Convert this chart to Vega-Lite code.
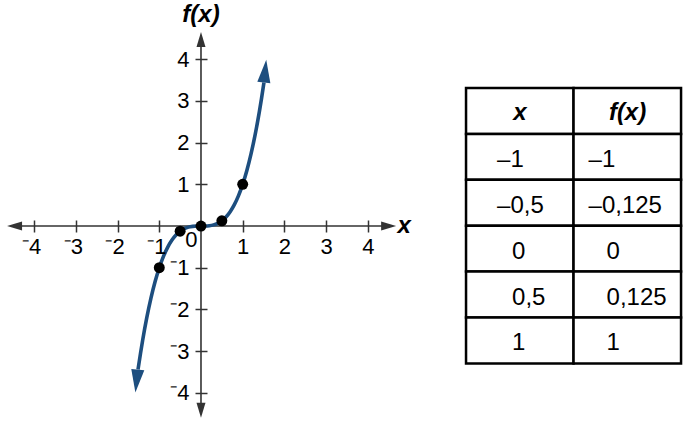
{
  "$schema": "https://vega.github.io/schema/vega-lite/v6.json",
  "width": 689,
  "height": 425,
  "autosize": {"type": "fit", "contains": "padding"},
  "padding": 0,
  "background": "white",
  "config": {"view": {"stroke": null}, "font": "Liberation Sans"},
  "datasets": {
    "axisLines": [
      {"x": -4.55, "x2": 4.55, "y": 0, "y2": 0},
      {"x": 0, "x2": 0, "y": -4.5, "y2": 4.55}
    ],
    "axisHeads": [
      {"x": -4.65, "y": 0, "dir": "left"},
      {"x": 4.68, "y": 0, "dir": "right"},
      {"x": 0, "y": 4.65, "dir": "up"},
      {"x": 0, "y": -4.6, "dir": "down"}
    ],
    "curve": [
      {"x": -1.51, "y": -3.443},
      {"x": -1.45, "y": -3.049},
      {"x": -1.4, "y": -2.744},
      {"x": -1.3, "y": -2.197},
      {"x": -1.2, "y": -1.728},
      {"x": -1.1, "y": -1.331},
      {"x": -1.0, "y": -1.0},
      {"x": -0.9, "y": -0.729},
      {"x": -0.8, "y": -0.512},
      {"x": -0.7, "y": -0.343},
      {"x": -0.6, "y": -0.216},
      {"x": -0.5, "y": -0.125},
      {"x": -0.4, "y": -0.064},
      {"x": -0.3, "y": -0.027},
      {"x": -0.2, "y": -0.008},
      {"x": -0.1, "y": -0.001},
      {"x": 0, "y": 0},
      {"x": 0.1, "y": 0.001},
      {"x": 0.2, "y": 0.008},
      {"x": 0.3, "y": 0.027},
      {"x": 0.4, "y": 0.064},
      {"x": 0.5, "y": 0.125},
      {"x": 0.6, "y": 0.216},
      {"x": 0.7, "y": 0.343},
      {"x": 0.8, "y": 0.512},
      {"x": 0.9, "y": 0.729},
      {"x": 1.0, "y": 1.0},
      {"x": 1.1, "y": 1.331},
      {"x": 1.2, "y": 1.728},
      {"x": 1.3, "y": 2.197},
      {"x": 1.4, "y": 2.744},
      {"x": 1.45, "y": 3.049},
      {"x": 1.51, "y": 3.443}
    ],
    "curveHeads": [
      {"x": 1.565, "y": 3.99, "head": "up"},
      {"x": -1.573, "y": -3.993, "head": "down"}
    ],
    "dots": [
      {"x": -1, "y": -1},
      {"x": -0.5, "y": -0.125},
      {"x": 0, "y": 0},
      {"x": 0.5, "y": 0.125},
      {"x": 1, "y": 1}
    ],
    "titles": [
      {"x": 0, "y": 4.89, "label": "f(x)"},
      {"x": 4.87, "y": -0.168, "label": "x"}
    ],
    "cells": [
      {"row": 0, "rowEnd": 1, "col": 0, "colEnd": 1, "label": "x", "neg": false},
      {"row": 0, "rowEnd": 1, "col": 1, "colEnd": 2, "label": "f(x)", "neg": false},
      {"row": 1, "rowEnd": 2, "col": 0, "colEnd": 1, "label": "–1", "neg": true},
      {"row": 1, "rowEnd": 2, "col": 1, "colEnd": 2, "label": "–1", "neg": true},
      {"row": 2, "rowEnd": 3, "col": 0, "colEnd": 1, "label": "–0,5", "neg": true},
      {"row": 2, "rowEnd": 3, "col": 1, "colEnd": 2, "label": "–0,125", "neg": true},
      {"row": 3, "rowEnd": 4, "col": 0, "colEnd": 1, "label": "0", "neg": false},
      {"row": 3, "rowEnd": 4, "col": 1, "colEnd": 2, "label": "0", "neg": false},
      {"row": 4, "rowEnd": 5, "col": 0, "colEnd": 1, "label": "0,5", "neg": false},
      {"row": 4, "rowEnd": 5, "col": 1, "colEnd": 2, "label": "0,125", "neg": false},
      {"row": 5, "rowEnd": 6, "col": 0, "colEnd": 1, "label": "1", "neg": false},
      {"row": 5, "rowEnd": 6, "col": 1, "colEnd": 2, "label": "1", "neg": false}
    ]
  },
  "layer": [
    {
      "data": {"name": "axisLines"},
      "mark": {"type": "rule", "color": "#333333", "strokeWidth": 1.6},
      "encoding": {
        "x": {
          "field": "x", "type": "quantitative",
          "scale": {"domain": [-4.82, 11.703], "nice": false, "zero": false},
          "axis": {
            "orient": "bottom",
            "values": [-4, -3, -2, -1, 0, 1, 2, 3, 4],
            "offset": -205,
            "zindex": 1,
            "domain": false, "grid": false,
            "tickSize": 12, "tickWidth": 1.5, "tickColor": "#333333",
            "tickOpacity": {"condition": {"test": "datum.value === 0", "value": 0}, "value": 1},
            "labelFont": "Liberation Sans", "labelFontSize": 22, "labelColor": "#000000",
            "labelPadding": {"condition": {"test": "datum.value === 0", "value": -3}, "value": 4},
            "labelOffset": {"condition": [{"test": "datum.value === 0", "value": -10}, {"test": "datum.value < 0", "value": -3}], "value": 0},
            "labelExpr": "datum.value < 0 ? '⁻' + abs(datum.value) : '' + datum.value",
            "labelFlush": false, "labelOverlap": false,
            "title": null
          }
        },
        "x2": {"field": "x2"},
        "y": {
          "field": "y", "type": "quantitative",
          "scale": {"domain": [-4.772, 5.42], "nice": false, "zero": false},
          "axis": {
            "orient": "left",
            "values": [-4, -3, -2, -1, 1, 2, 3, 4],
            "offset": -207,
            "zindex": 1,
            "domain": false, "grid": false,
            "tickSize": 12, "tickWidth": 1.5, "tickColor": "#333333",
            "labelFont": "Liberation Sans", "labelFontSize": 22, "labelColor": "#000000",
            "labelPadding": 6,
            "labelExpr": "datum.value < 0 ? '⁻' + abs(datum.value) : '' + datum.value",
            "labelFlush": false, "labelOverlap": false,
            "title": null
          }
        },
        "y2": {"field": "y2"}
      }
    },
    {
      "data": {"name": "axisHeads"},
      "mark": {"type": "point", "filled": true, "opacity": 1, "color": "#333333", "size": 225, "strokeWidth": 0},
      "encoding": {
        "x": {"field": "x", "type": "quantitative", "scale": {"domain": [-4.82, 11.703], "nice": false, "zero": false}, "axis": null},
        "y": {"field": "y", "type": "quantitative", "scale": {"domain": [-4.772, 5.42], "nice": false, "zero": false}, "axis": null},
        "shape": {
          "field": "dir", "type": "nominal", "legend": null,
          "scale": {
            "domain": ["left", "right", "up", "down"],
            "range": ["M0,0L2,-0.6L2,0.6Z", "M0,0L-2,-0.6L-2,0.6Z", "M0,0L-0.6,2L0.6,2Z", "M0,0L-0.6,-2L0.6,-2Z"]
          }
        }
      }
    },
    {
      "data": {"name": "curve"},
      "mark": {"type": "line", "color": "#1d4e7f", "strokeWidth": 3.6, "interpolate": "monotone"},
      "encoding": {
        "x": {"field": "x", "type": "quantitative", "scale": {"domain": [-4.82, 11.703], "nice": false, "zero": false}, "axis": null},
        "y": {"field": "y", "type": "quantitative", "scale": {"domain": [-4.772, 5.42], "nice": false, "zero": false}, "axis": null}
      }
    },
    {
      "data": {"name": "curveHeads"},
      "mark": {"type": "point", "filled": true, "opacity": 1, "color": "#1d4e7f", "size": 529, "angle": 6, "strokeWidth": 0},
      "encoding": {
        "x": {"field": "x", "type": "quantitative", "scale": {"domain": [-4.82, 11.703], "nice": false, "zero": false}, "axis": null},
        "y": {"field": "y", "type": "quantitative", "scale": {"domain": [-4.772, 5.42], "nice": false, "zero": false}, "axis": null},
        "shape": {
          "field": "head", "type": "nominal", "legend": null,
          "scale": {
            "domain": ["up", "down"],
            "range": ["M0,0L0.57,2L-0.57,2Z", "M0,0L0.57,-2L-0.57,-2Z"]
          }
        }
      }
    },
    {
      "data": {"name": "dots"},
      "mark": {"type": "circle", "color": "#000000", "opacity": 1, "size": 120},
      "encoding": {
        "x": {"field": "x", "type": "quantitative", "scale": {"domain": [-4.82, 11.703], "nice": false, "zero": false}, "axis": null},
        "y": {"field": "y", "type": "quantitative", "scale": {"domain": [-4.772, 5.42], "nice": false, "zero": false}, "axis": null}
      }
    },
    {
      "data": {"name": "titles"},
      "mark": {"type": "text", "font": "Liberation Sans", "fontSize": 24, "fontWeight": "bold", "fontStyle": "italic", "align": "center", "baseline": "alphabetic", "color": "#000000"},
      "encoding": {
        "x": {"field": "x", "type": "quantitative", "scale": {"domain": [-4.82, 11.703], "nice": false, "zero": false}, "axis": null},
        "y": {"field": "y", "type": "quantitative", "scale": {"domain": [-4.772, 5.42], "nice": false, "zero": false}, "axis": null},
        "text": {"field": "label"}
      }
    },
    {
      "data": {"name": "cells"},
      "mark": {"type": "rect", "fill": "white", "stroke": "#000000", "strokeWidth": 2.5},
      "encoding": {
        "x": {"field": "col", "type": "quantitative", "scale": {"domain": [-4.335, 2.074], "nice": false, "zero": false}, "axis": null},
        "x2": {"field": "colEnd"},
        "y": {"field": "row", "type": "quantitative", "scale": {"domain": [-1.917, 7.342], "nice": false, "zero": false, "reverse": true}, "axis": null},
        "y2": {"field": "rowEnd"}
      }
    },
    {
      "data": {"name": "cells"},
      "transform": [{"filter": "datum.row === 0"}],
      "mark": {"type": "text", "font": "Liberation Sans", "fontSize": 24, "fontWeight": "bold", "fontStyle": "italic", "align": "center", "baseline": "alphabetic", "dx": 54, "dy": 32, "color": "#000000"},
      "encoding": {
        "x": {"field": "col", "type": "quantitative", "scale": {"domain": [-4.335, 2.074], "nice": false, "zero": false}, "axis": null},
        "y": {"field": "row", "type": "quantitative", "scale": {"domain": [-1.917, 7.342], "nice": false, "zero": false, "reverse": true}, "axis": null},
        "text": {"field": "label"}
      }
    },
    {
      "data": {"name": "cells"},
      "transform": [{"filter": "datum.row > 0 && datum.col === 0 && datum.neg"}],
      "mark": {"type": "text", "font": "Liberation Sans", "fontSize": 24, "align": "left", "baseline": "alphabetic", "dx": 31, "dy": 33, "color": "#000000"},
      "encoding": {
        "x": {"field": "col", "type": "quantitative", "scale": {"domain": [-4.335, 2.074], "nice": false, "zero": false}, "axis": null},
        "y": {"field": "row", "type": "quantitative", "scale": {"domain": [-1.917, 7.342], "nice": false, "zero": false, "reverse": true}, "axis": null},
        "text": {"field": "label"}
      }
    },
    {
      "data": {"name": "cells"},
      "transform": [{"filter": "datum.row > 0 && datum.col === 0 && !datum.neg"}],
      "mark": {"type": "text", "font": "Liberation Sans", "fontSize": 24, "align": "left", "baseline": "alphabetic", "dx": 46, "dy": 33, "color": "#000000"},
      "encoding": {
        "x": {"field": "col", "type": "quantitative", "scale": {"domain": [-4.335, 2.074], "nice": false, "zero": false}, "axis": null},
        "y": {"field": "row", "type": "quantitative", "scale": {"domain": [-1.917, 7.342], "nice": false, "zero": false, "reverse": true}, "axis": null},
        "text": {"field": "label"}
      }
    },
    {
      "data": {"name": "cells"},
      "transform": [{"filter": "datum.row > 0 && datum.col === 1 && datum.neg"}],
      "mark": {"type": "text", "font": "Liberation Sans", "fontSize": 24, "align": "left", "baseline": "alphabetic", "dx": 15, "dy": 33, "color": "#000000"},
      "encoding": {
        "x": {"field": "col", "type": "quantitative", "scale": {"domain": [-4.335, 2.074], "nice": false, "zero": false}, "axis": null},
        "y": {"field": "row", "type": "quantitative", "scale": {"domain": [-1.917, 7.342], "nice": false, "zero": false, "reverse": true}, "axis": null},
        "text": {"field": "label"}
      }
    },
    {
      "data": {"name": "cells"},
      "transform": [{"filter": "datum.row > 0 && datum.col === 1 && !datum.neg"}],
      "mark": {"type": "text", "font": "Liberation Sans", "fontSize": 24, "align": "left", "baseline": "alphabetic", "dx": 33, "dy": 33, "color": "#000000"},
      "encoding": {
        "x": {"field": "col", "type": "quantitative", "scale": {"domain": [-4.335, 2.074], "nice": false, "zero": false}, "axis": null},
        "y": {"field": "row", "type": "quantitative", "scale": {"domain": [-1.917, 7.342], "nice": false, "zero": false, "reverse": true}, "axis": null},
        "text": {"field": "label"}
      }
    }
  ],
  "resolve": {"scale": {"x": "independent", "y": "independent", "shape": "independent"}}
}
